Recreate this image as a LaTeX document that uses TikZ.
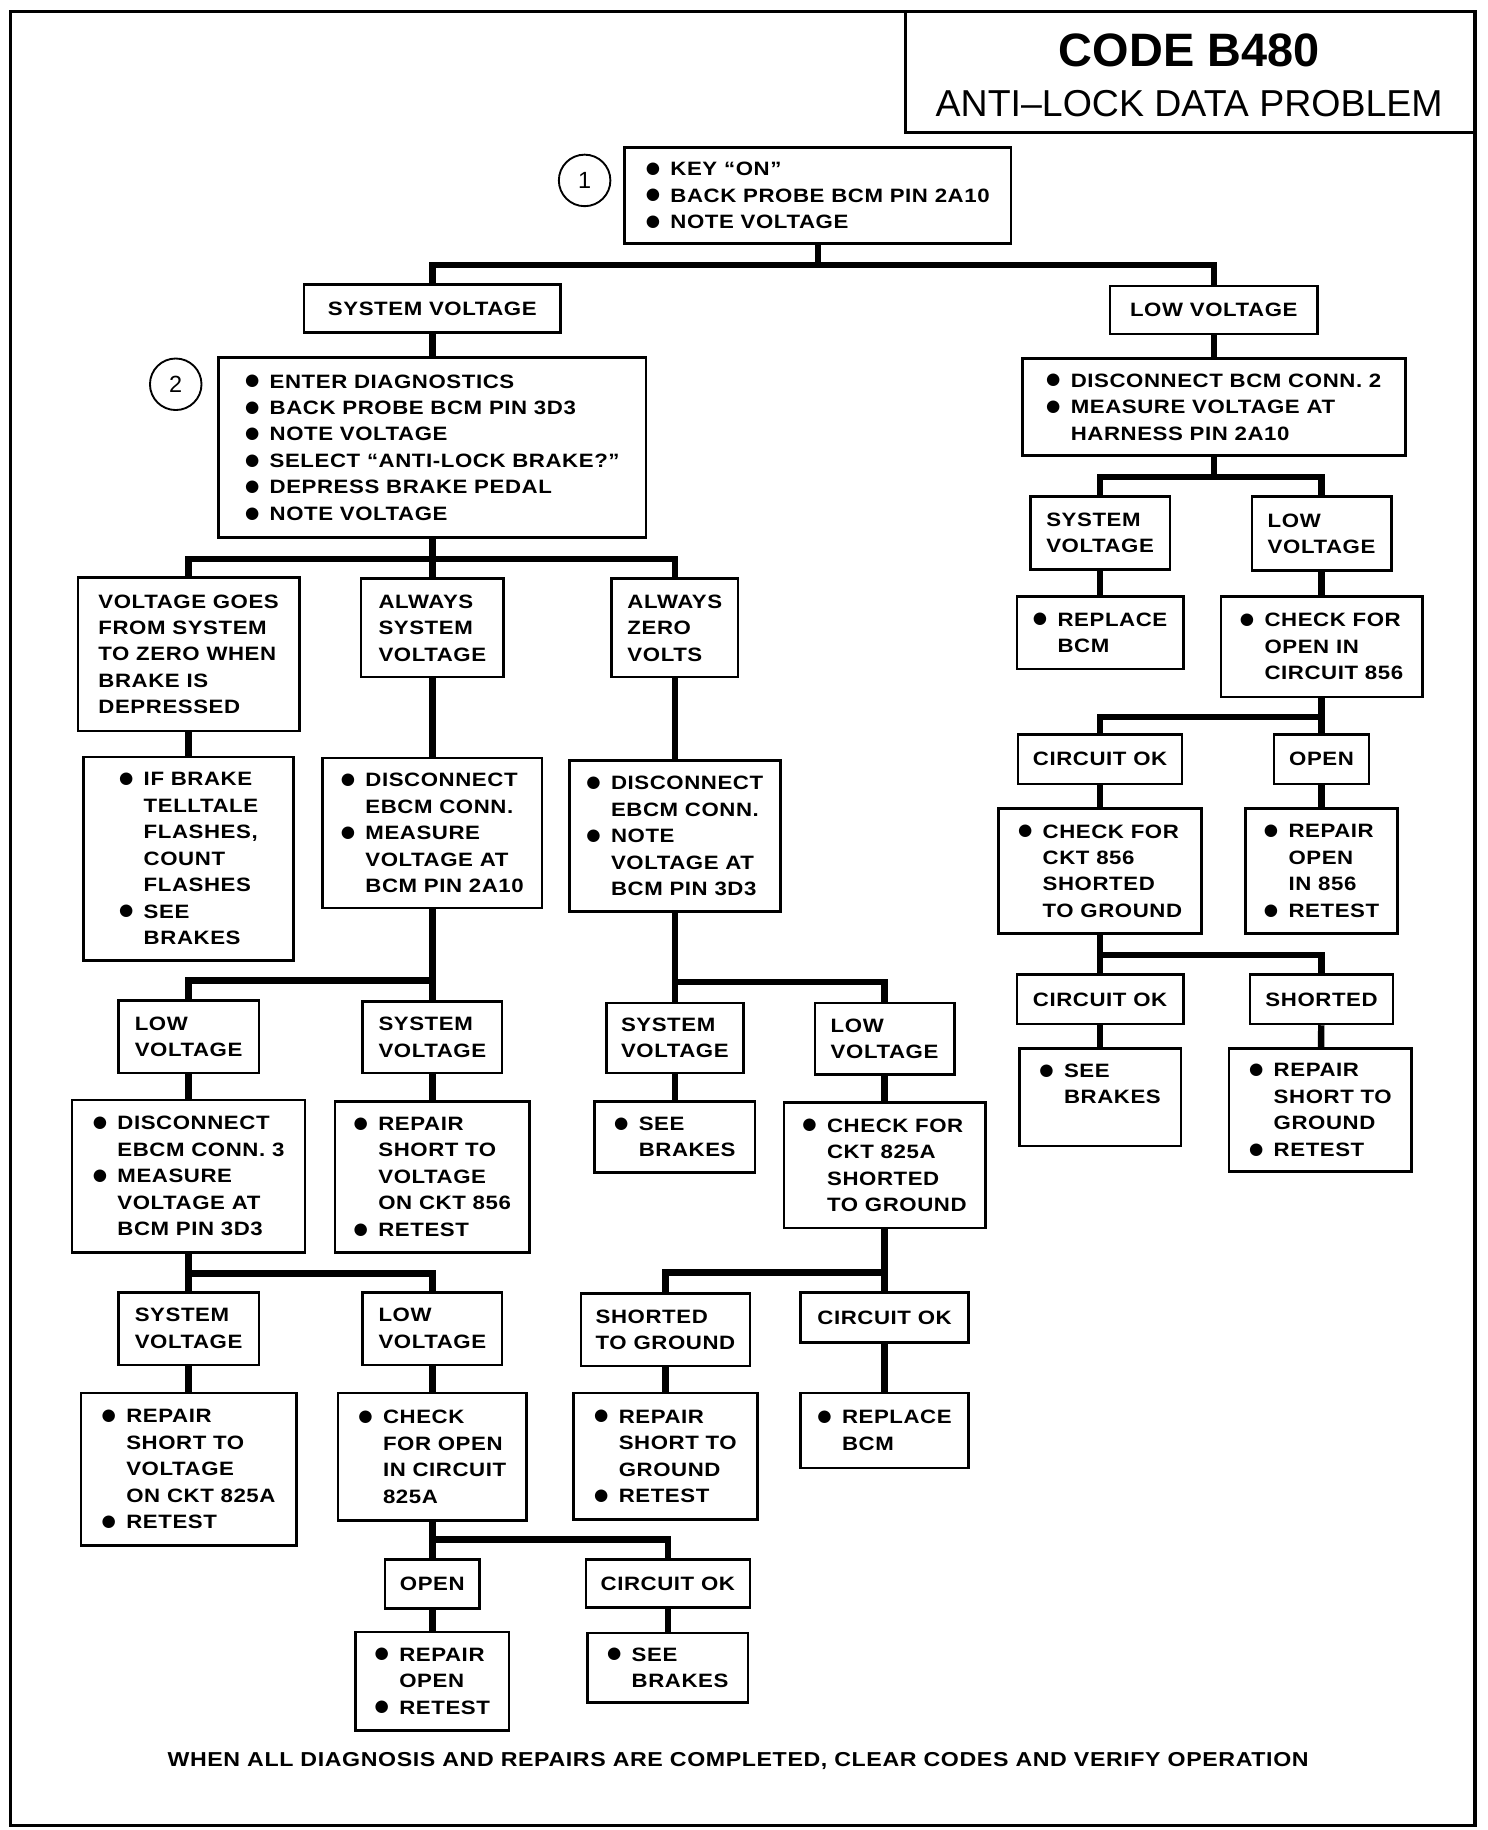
\documentclass[tikz,border=0pt]{standalone}
\usepackage{fontspec}
\setmainfont{Liberation Sans}
\newfontfamily\boxfont[FakeStretch=1.15,LetterSpace=3]{Liberation Sans}
\newfontfamily\dotfont{DejaVu Sans}
\newcommand{\dotitem}{\makebox[21pt][l]{\raisebox{2pt}{\dotfont\fontsize{14}{14}\selectfont ●}}}
\newcommand{\dotindent}{\hspace*{21pt}}

\tikzset{
  box/.style={draw, line width=2.2pt, align=left, inner sep=0pt,
    font=\boxfont\bfseries\fontsize{16.5}{22.6}\selectfont},
  link/.style={line width=5.5pt},
  stepmark/.style={draw, circle, line width=1.6pt, minimum size=44pt,
    font=\fontsize{20}{20}\selectfont},
}

\begin{document}
\begin{tikzpicture}[x=1pt,y=-1pt]
    \useasboundingbox (0,0) rectangle (1270,1562);

    % Frame and title
    \draw[line width=3pt] (9,10) rectangle (1259,1558);
    \draw[line width=2.5pt] (773,10) rectangle (1259,113);
    \node[font=\bfseries\fontsize{40}{40}\selectfont] (code) at (1015,43) {CODE B480};
    \node[font=\fontsize{32}{32}\selectfont] (title) at (1015,88) {ANTI–LOCK DATA PROBLEM};

    % Step 1
    \node[stepmark] (s1) at (499,154) {1};
    \node[box, minimum width=330, minimum height=82] (b1) at (698,167)
        {\dotitem KEY “ON”\\\dotitem BACK PROBE BCM PIN 2A10\\\dotitem NOTE VOLTAGE};
    \node[box, minimum width=219, minimum height=41] (sv0) at (369,263.5) {SYSTEM VOLTAGE};
    \node[box, minimum width=177, minimum height=41] (lv0) at (1036,264.5) {LOW VOLTAGE};
    \draw[link] (b1.south) -- (b1.south |- 0,226);
    \draw[link] (sv0.north) |- (lv0.north |- 0,226) -- (lv0.north);

    % Step 2 (system voltage branch)
    \node[stepmark] (s2) at (150,328) {2};
    \node[box, minimum width=365, minimum height=154] (b2) at (369,382)
        {\dotitem ENTER DIAGNOSTICS\\\dotitem BACK PROBE BCM PIN 3D3\\\dotitem NOTE VOLTAGE\\
         \dotitem SELECT “ANTI-LOCK BRAKE?”\\\dotitem DEPRESS BRAKE PEDAL\\\dotitem NOTE VOLTAGE};
    \draw[link] (sv0) -- (b2);

    \node[box, minimum width=189, minimum height=131] (vg) at (161,558.5)
        {VOLTAGE GOES\\FROM SYSTEM\\TO ZERO WHEN\\BRAKE IS\\DEPRESSED};
    \node[box, minimum width=122, minimum height=84] (as) at (369,536) {ALWAYS\\SYSTEM\\VOLTAGE};
    \node[box, minimum width=108, minimum height=84] (az) at (576,536) {ALWAYS\\ZERO\\VOLTS};
    \draw[link] (b2) -- (as);
    \draw[link] (vg.north) |- (az.north |- 0,477) -- (az.north);

    \node[box, minimum width=179, minimum height=174] (ifb) at (161,733)
        {\dotitem IF BRAKE\\\dotindent TELLTALE\\\dotindent FLASHES,\\\dotindent COUNT\\
         \dotindent FLASHES\\\dotitem SEE\\\dotindent BRAKES};
    \node[box, minimum width=187, minimum height=128] (de1) at (369,711)
        {\dotitem DISCONNECT\\\dotindent EBCM CONN.\\\dotitem MEASURE\\\dotindent VOLTAGE AT\\
         \dotindent BCM PIN 2A10};
    \node[box, minimum width=180, minimum height=129] (de2) at (576,713.5)
        {\dotitem DISCONNECT\\\dotindent EBCM CONN.\\\dotitem NOTE\\\dotindent VOLTAGE AT\\
         \dotindent BCM PIN 3D3};
    \draw[link] (vg) -- (ifb);
    \draw[link] (as) -- (de1);
    \draw[link] (az) -- (de2);

    % Always system voltage
    \node[box, minimum width=120, minimum height=62] (lv1) at (161,885) {LOW\\VOLTAGE};
    \node[box, minimum width=119, minimum height=61] (sv1) at (369,885.5) {SYSTEM\\VOLTAGE};
    \draw[link] (de1) -- (sv1);
    \draw[link] (lv1.north) |- (de1.south |- 0,837);

    \node[box, minimum width=199, minimum height=130] (de3) at (161,1004)
        {\dotitem DISCONNECT\\\dotindent EBCM CONN. 3\\\dotitem MEASURE\\\dotindent VOLTAGE AT\\
         \dotindent BCM PIN 3D3};
    \node[box, minimum width=166, minimum height=129] (rs1) at (369,1004.5)
        {\dotitem REPAIR\\\dotindent SHORT TO\\\dotindent VOLTAGE\\\dotindent ON CKT 856\\
         \dotitem RETEST};
    \draw[link] (lv1) -- (de3);
    \draw[link] (sv1) -- (rs1);

    \node[box, minimum width=120, minimum height=62] (sv3) at (161,1134) {SYSTEM\\VOLTAGE};
    \node[box, minimum width=119, minimum height=62] (lv3) at (369,1134) {LOW\\VOLTAGE};
    \draw[link] (de3) -- (sv3);
    \draw[link] (de3.south |- 0,1087) -| (lv3.north);

    \node[box, minimum width=184, minimum height=130] (rs2) at (161,1254)
        {\dotitem REPAIR\\\dotindent SHORT TO\\\dotindent VOLTAGE\\\dotindent ON CKT 825A\\
         \dotitem RETEST};
    \node[box, minimum width=161, minimum height=109] (ck825) at (369,1243.5)
        {\dotitem CHECK\\\dotindent FOR OPEN\\\dotindent IN CIRCUIT\\\dotindent 825A};
    \draw[link] (sv3) -- (rs2);
    \draw[link] (lv3) -- (ck825);

    \node[box, minimum width=81, minimum height=42] (op1) at (369,1352) {OPEN};
    \node[box, minimum width=140, minimum height=41] (co3) at (570,1351.5) {CIRCUIT OK};
    \draw[link] (ck825) -- (op1);
    \draw[link] (ck825.south |- 0,1314) -| (co3.north);

    \node[box, minimum width=131, minimum height=84] (ro1) at (369,1435)
        {\dotitem REPAIR\\\dotindent OPEN\\\dotitem RETEST};
    \node[box, minimum width=137, minimum height=59] (sb2) at (570,1423.5)
        {\dotitem SEE\\\dotindent BRAKES};
    \draw[link] (op1) -- (ro1);
    \draw[link] (co3) -- (sb2);

    % Always zero volts
    \node[box, minimum width=117, minimum height=60] (sv2) at (576,886) {SYSTEM\\VOLTAGE};
    \node[box, minimum width=119, minimum height=61] (lv2) at (755,886.5) {LOW\\VOLTAGE};
    \draw[link] (de2) -- (sv2);
    \draw[link] (de2.south |- 0,838) -| (lv2.north);

    \node[box, minimum width=137, minimum height=61] (sb1) at (576,970.5)
        {\dotitem SEE\\\dotindent BRAKES};
    \node[box, minimum width=172, minimum height=107] (cf1) at (755,994.5)
        {\dotitem CHECK FOR\\\dotindent CKT 825A\\\dotindent SHORTED\\\dotindent TO GROUND};
    \draw[link] (sv2) -- (sb1);
    \draw[link] (lv2) -- (cf1);

    \node[box, minimum width=144, minimum height=62] (sg) at (568,1135) {SHORTED\\TO GROUND};
    \node[box, minimum width=143, minimum height=43] (co1) at (755,1124.5) {CIRCUIT OK};
    \draw[link] (cf1) -- (co1);
    \draw[link] (sg.north) |- (cf1.south |- 0,1086);

    \node[box, minimum width=157, minimum height=108] (rg1) at (568,1243)
        {\dotitem REPAIR\\\dotindent SHORT TO\\\dotindent GROUND\\\dotitem RETEST};
    \node[box, minimum width=143, minimum height=64] (rb1) at (755,1221)
        {\dotitem REPLACE\\\dotindent BCM};
    \draw[link] (sg) -- (rg1);
    \draw[link] (co1) -- (rb1);

    % Low voltage branch
    \node[box, minimum width=327, minimum height=83] (dc2) at (1036,347.5)
        {\dotitem DISCONNECT BCM CONN. 2\\\dotitem MEASURE VOLTAGE AT\\\dotindent HARNESS PIN 2A10};
    \draw[link] (lv0) -- (dc2);

    \node[box, minimum width=119, minimum height=62] (sv4) at (939,455) {SYSTEM\\VOLTAGE};
    \node[box, minimum width=119, minimum height=63] (lv4) at (1128,455.5) {LOW\\VOLTAGE};
    \draw[link] (dc2.south) -- (dc2.south |- 0,407);
    \draw[link] (sv4.north) |- (lv4.north |- 0,407) -- (lv4.north);

    \node[box, minimum width=142, minimum height=62] (rb2) at (939,540)
        {\dotitem REPLACE\\\dotindent BCM};
    \node[box, minimum width=172, minimum height=86] (cf2) at (1128,552)
        {\dotitem CHECK FOR\\\dotindent OPEN IN\\\dotindent CIRCUIT 856};
    \draw[link] (sv4) -- (rb2);
    \draw[link] (lv4) -- (cf2);

    \node[box, minimum width=140, minimum height=42] (co4) at (939,648) {CIRCUIT OK};
    \node[box, minimum width=81, minimum height=42] (op2) at (1128,648) {OPEN};
    \draw[link] (cf2) -- (op2);
    \draw[link] (co4.north) |- (cf2.south |- 0,612);

    \node[box, minimum width=173, minimum height=107] (cf3) at (939,743.5)
        {\dotitem CHECK FOR\\\dotindent CKT 856\\\dotindent SHORTED\\\dotindent TO GROUND};
    \node[box, minimum width=130, minimum height=107] (ro2) at (1128,743.5)
        {\dotitem REPAIR\\\dotindent OPEN\\\dotindent IN 856\\\dotitem RETEST};
    \draw[link] (co4) -- (cf3);
    \draw[link] (op2) -- (ro2);

    \node[box, minimum width=142, minimum height=42] (co5) at (939,853) {CIRCUIT OK};
    \node[box, minimum width=122, minimum height=42] (sh) at (1128,853) {SHORTED};
    \draw[link] (cf3) -- (co5);
    \draw[link] (cf3.south |- 0,815) -| (sh.north);

    \node[box, minimum width=138, minimum height=83] (sb3) at (939,936.5)
        {\dotitem SEE\\\dotindent BRAKES\\\mbox{}};
    \node[box, minimum width=156, minimum height=105] (rg2) at (1127,947.5)
        {\dotitem REPAIR\\\dotindent SHORT TO\\\dotindent GROUND\\\dotitem RETEST};
    \draw[link] (co5) -- (sb3);
    \draw[link] (sh) -- (rg2);

    % Closing note
    \node[font=\boxfont\bfseries\fontsize{17.2}{20}\selectfont] (note) at (630,1503)
        {WHEN ALL DIAGNOSIS AND REPAIRS ARE COMPLETED, CLEAR CODES AND VERIFY OPERATION};

\end{tikzpicture}
\end{document}
